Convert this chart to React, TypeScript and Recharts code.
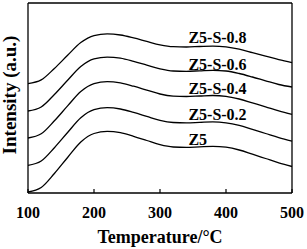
import React from 'react';
import { LineChart, Line, XAxis, YAxis, ReferenceDot, ReferenceLine, Label } from 'recharts';

const temperatures = [100, 120, 140, 160, 180, 200, 220, 240, 260, 280, 300, 320, 340, 360, 380, 400, 420, 440, 460, 480, 500];
const z5 = [1, 5.5, 19.5, 35.5, 51, 59.5, 61.6, 60.3, 56.7, 52.5, 48.3, 46, 45.6, 46.2, 46.7, 45.8, 43, 38.8, 34.5, 30.2, 26.5];
const z5s02 = [27.7, 32, 45.3, 60.5, 75.2, 83.3, 85.3, 84, 80.6, 76.6, 72.6, 70.5, 70.1, 70.6, 71.1, 70.2, 67.6, 63.6, 59.5, 55.4, 51.9];
const z5s04 = [55, 59.2, 72.2, 87.1, 101.5, 109.4, 111.4, 110.1, 106.8, 102.9, 99, 96.9, 96.5, 97, 97.5, 96.7, 94, 90.1, 86.2, 82.2, 78.7];
const z5s06 = [82, 86, 98.5, 112.7, 126.5, 134.1, 135.9, 134.8, 131.6, 127.8, 124.1, 122, 121.7, 122.2, 122.7, 122, 119.5, 116, 112.2, 108.5, 106];
const z5s08 = [109.4, 113.1, 124.6, 137.7, 150.4, 157.4, 159.1, 158, 155.1, 151.6, 148.2, 146.3, 146, 146.5, 146.9, 146.1, 143.8, 140.4, 136.9, 133.3, 130.3];

const seriesKeys = ['z5', 'z5s02', 'z5s04', 'z5s06', 'z5s08'];
const seriesNames = ['Z5', 'Z5-S-0.2', 'Z5-S-0.4', 'Z5-S-0.6', 'Z5-S-0.8'];
const seriesValues = [z5, z5s02, z5s04, z5s06, z5s08];
const xTicks = [100, 200, 300, 400, 500];

// label anchors (data units): left edge of text, baseline
const labelTemp = 343;
const labelLevels = [48, 73, 99, 123, 150.3];

const data = temperatures.map((t, i) => {
  const row: Record<string, number> = { t };
  seriesKeys.forEach((k, j) => {
    row[k] = seriesValues[j][i];
  });
  return row;
});

const FONT = "'Liberation Serif', 'Times New Roman', serif";

export default function App() {
  return (
    <div style={{ position: 'absolute', left: 0, top: 0, width: 307, height: 249, background: '#fff' }}>
      <LineChart width={307} height={249} data={data} margin={{ top: 3, right: 15, bottom: 0, left: 0 }}>
        <XAxis
          dataKey="t"
          type="number"
          domain={[100, 500]}
          ticks={xTicks}
          height={56}
          tickSize={-4}
          tickMargin={18}
          axisLine={{ stroke: '#000', strokeWidth: 1.3 }}
          tickLine={{ stroke: '#000', strokeWidth: 1.2 }}
          tick={{ fill: '#000', fontSize: 16, fontWeight: 'bold', fontFamily: FONT }}
          interval={0}
        >
          <Label
            value="Temperature/°C"
            position="insideBottom"
            offset={6}
            style={{ fill: '#000', fontSize: 18, fontWeight: 'bold', fontFamily: FONT }}
          />
        </XAxis>
        <YAxis
          type="number"
          domain={[0, 190]}
          width={28}
          tick={false}
          tickLine={false}
          axisLine={{ stroke: '#000', strokeWidth: 1.3 }}
        >
          <Label
            content={() => (
              <text
                x={15.5}
                y={95}
                transform="rotate(-90, 15.5, 95)"
                textAnchor="middle"
                fill="#000"
                style={{ fontSize: 19, fontWeight: 'bold', fontFamily: FONT }}
              >
                Intensity (a.u.)
              </text>
            )}
          />
        </YAxis>
        <ReferenceLine y={190} stroke="#000" strokeWidth={1.3} />
        <ReferenceLine x={500} stroke="#000" strokeWidth={1.3} />
        {seriesKeys.map((k) => (
          <Line
            key={k}
            dataKey={k}
            type="monotone"
            stroke="#000"
            strokeWidth={1.3}
            dot={false}
            isAnimationActive={false}
          />
        ))}
        {seriesNames.map((name, i) => (
          <ReferenceDot
            key={name}
            x={labelTemp}
            y={labelLevels[i]}
            r={0}
            fill="none"
            stroke="none"
            label={(props: any) => (
              <text
                x={props.viewBox.x}
                y={props.viewBox.y}
                textAnchor="start"
                fill="#000"
                style={{ fontSize: 16, fontWeight: 'bold', fontFamily: FONT }}
              >
                {name}
              </text>
            )}
          />
        ))}
      </LineChart>
    </div>
  );
}
